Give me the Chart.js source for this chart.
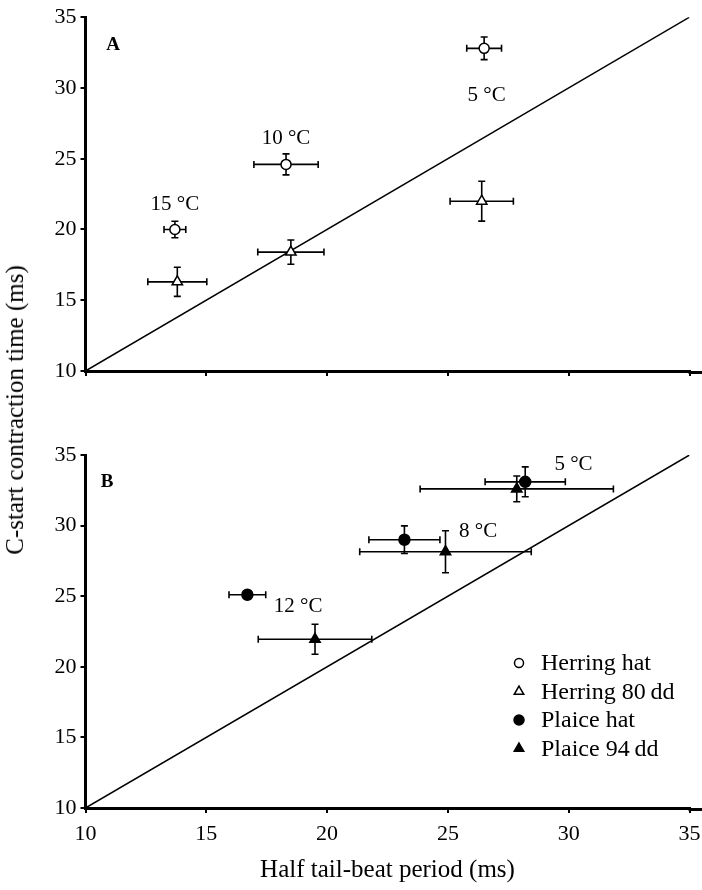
<!DOCTYPE html>
<html>
<head>
<meta charset="utf-8">
<title>C-start contraction time vs half tail-beat period</title>
<script src="https://cdn.jsdelivr.net/npm/chart.js@4.4.0/dist/chart.umd.min.js"></script>
<style>
  html, body { margin: 0; padding: 0; background: #fff; }
  #wrap { position: relative; width: 702px; height: 890px; font-family: "Liberation Serif", "Times New Roman", serif; color: #000; }
  #panelA { position: absolute; left: 0; top: 0; }
  #panelB { position: absolute; left: 0; top: 400px; }
  #ytitle {
    position: absolute; left: 15px; top: 410px;
    transform: translate(-50%, -50%) rotate(-90deg);
    white-space: nowrap; font-size: 25px;
  }
</style>
</head>
<body>
<div id="wrap">
  <canvas id="panelA" width="702" height="390"></canvas>
  <canvas id="panelB" width="702" height="490"></canvas>
  <div id="ytitle">C-start contraction time (ms)</div>
</div>

<script>
// --- axis ---
const axisMin = 10;
const axisMax = 35;
const axisStep = 5;
const xTitle = 'Half tail-beat period (ms)';

// --- panel A: herring (15, 10, 5 °C) ---
const tempsA = ['15 °C', '10 °C', '5 °C'];
const herringHatX = [13.7, 18.3, 26.5];
const herringHatY = [20.0, 24.6, 32.8];
const herringHatXErr = [0.45, 1.33, 0.72];
const herringHatYErr = [0.58, 0.74, 0.8];
const herring80X = [13.8, 18.5, 26.4];
const herring80Y = [16.3, 18.4, 22.0];
const herring80XErr = [1.22, 1.37, 1.31];
const herring80YErr = [1.03, 0.86, 1.41];

// --- panel B: plaice (12, 8, 5 °C) ---
const tempsB = ['12 °C', '8 °C', '5 °C'];
const plaiceHatX = [16.7, 23.2, 28.2];
const plaiceHatY = [25.1, 29.0, 33.1];
const plaiceHatXErr = [0.76, 1.47, 1.66];
const plaiceHatYErr = [0, 0.98, 1.06];
const plaice94X = [19.5, 24.9, 27.85];
const plaice94Y = [21.95, 28.15, 32.6];
const plaice94XErr = [2.35, 3.55, 4.0];
const plaice94YErr = [1.06, 1.49, 0.91];

// --- 1:1 line ---
const unityX = [10, 35];
const unityY = [10, 35];

const seriesNames = ['Herring hat', 'Herring 80\u2009dd', 'Plaice hat', 'Plaice 94\u2009dd'];

// ---------------------------------------------------------------
// styles & placement
const FONT = '"Liberation Serif", "Times New Roman", serif';
const seriesStyle = [
  { pointStyle: 'circle',   radius: 5,   fill: '#fff' },
  { pointStyle: 'triangle', radius: 6,   fill: '#fff' },
  { pointStyle: 'circle',   radius: 5.5, fill: '#000' },
  { pointStyle: 'triangle', radius: 6,   fill: '#000' }
];
// temperature label anchors (data units)
const tempPosA = [[13.7, 21.8], [18.3, 26.45], [26.6, 29.5]];
const tempPosB = [[18.8, 24.25], [26.25, 29.55], [30.2, 34.3]];

const toPoints = (xs, ys) => xs.map((x, i) => ({ x, y: ys[i] }));

function pointDataset(name, xs, ys, xErr, yErr, style) {
  return {
    label: name, type: 'scatter',
    data: toPoints(xs, ys),
    errX: xErr, errY: yErr,
    pointStyle: style.pointStyle,
    pointRadius: style.radius,
    pointBackgroundColor: style.fill,
    pointBorderColor: '#000',
    pointBorderWidth: 1.5
  };
}

function unityDataset() {
  return {
    type: 'line', data: toPoints(unityX, unityY),
    borderColor: '#000', borderWidth: 1.5, pointRadius: 0, fill: false
  };
}

// error bars are drawn under the markers, through the chart's scales
const errorBars = {
  id: 'errorBars',
  beforeDatasetsDraw(chart) {
    const { ctx, scales: { x, y } } = chart;
    const cap = 3.5;
    ctx.save();
    ctx.strokeStyle = '#000';
    ctx.lineWidth = 1.6;
    chart.data.datasets.forEach(ds => {
      if (!ds.errX) return;
      ds.data.forEach((p, i) => {
        const px = x.getPixelForValue(p.x), py = y.getPixelForValue(p.y);
        const ex = ds.errX[i], ey = ds.errY[i];
        ctx.beginPath();
        if (ex > 0) {
          const l = x.getPixelForValue(p.x - ex), r = x.getPixelForValue(p.x + ex);
          ctx.moveTo(l, py); ctx.lineTo(r, py);
          ctx.moveTo(l, py - cap); ctx.lineTo(l, py + cap);
          ctx.moveTo(r, py - cap); ctx.lineTo(r, py + cap);
        }
        if (ey > 0) {
          const t = y.getPixelForValue(p.y + ey), b = y.getPixelForValue(p.y - ey);
          ctx.moveTo(px, t); ctx.lineTo(px, b);
          ctx.moveTo(px - cap, t); ctx.lineTo(px + cap, t);
          ctx.moveTo(px - cap, b); ctx.lineTo(px + cap, b);
        }
        ctx.stroke();
      });
    });
    ctx.restore();
  }
};

// panel letter, temperature labels, axis run-out and (panel B) the legend
const annotations = {
  id: 'annotations',
  afterDraw(chart, args, opts) {
    const { ctx, chartArea, scales: { x, y } } = chart;
    ctx.save();

    // the x axis line runs on to the right edge in the original
    ctx.strokeStyle = '#000';
    ctx.lineWidth = 3;
    ctx.beginPath();
    ctx.moveTo(chartArea.right - 1, chartArea.bottom + 1.5);
    ctx.lineTo(chart.width, chartArea.bottom + 1.5);
    ctx.stroke();

    ctx.fillStyle = '#000';
    ctx.textAlign = 'center';
    ctx.textBaseline = 'middle';
    ctx.font = 'bold 19px ' + FONT;
    ctx.fillText(opts.letter, opts.letterX, opts.letterY);

    ctx.font = '21px ' + FONT;
    opts.temps.forEach((t, i) => {
      const [vx, vy] = opts.tempPos[i];
      ctx.fillText(t, x.getPixelForValue(vx), y.getPixelForValue(vy));
    });

    if (opts.legend) {
      const L = opts.legend;
      ctx.textAlign = 'left';
      ctx.font = '24px ' + FONT;
      seriesNames.forEach((name, i) => {
        const rowY = L.top + i * L.rowGap;
        const st = seriesStyle[i];
        ctx.fillStyle = st.fill;
        ctx.strokeStyle = '#000';
        ctx.lineWidth = 1.5;
        Chart.helpers.drawPoint(ctx, {
          pointStyle: st.pointStyle, radius: st.radius - 0.5, borderWidth: 1.5, rotation: 0
        }, L.markerX, rowY);
        ctx.fillStyle = '#000';
        ctx.fillText(name, L.textX, rowY + 1);
      });
    }
    ctx.restore();
  }
};

function panelOptions(isBottom, padTop, xHeight) {
  const grid = {
    display: true, drawOnChartArea: false, drawTicks: true,
    tickLength: 5, color: '#000', lineWidth: 2
  };
  return {
    responsive: false,
    animation: false,
    layout: { padding: { top: padTop, right: 12.5, left: 0, bottom: 0 } },
    plugins: { legend: { display: false }, tooltip: { enabled: false } },
    scales: {
      x: {
        type: 'linear', min: axisMin, max: axisMax,
        ticks: {
          display: isBottom, stepSize: axisStep, padding: 8, color: '#000',
          font: { family: FONT, size: 22 }
        },
        grid: grid,
        border: { display: true, color: '#000', width: 3 },
        title: {
          display: isBottom, text: xTitle, color: '#000',
          font: { family: FONT, size: 25 }, padding: { top: 0, bottom: 5 }
        },
        afterFit: s => { s.height = xHeight; s.paddingLeft = 0; s.paddingRight = 0; }
      },
      y: {
        type: 'linear', min: axisMin, max: axisMax,
        ticks: {
          stepSize: axisStep, padding: 4, color: '#000',
          font: { family: FONT, size: 22 }
        },
        grid: grid,
        border: { display: true, color: '#000', width: 3 },
        afterFit: s => { s.width = 85.5; }
      }
    }
  };
}

// --- Panel A ---
const optsA = panelOptions(false, 16, 19);
optsA.plugins.annotations = {
  letter: 'A', letterX: 113, letterY: 45, temps: tempsA, tempPos: tempPosA
};
new Chart(document.getElementById('panelA'), {
  type: 'scatter',
  data: {
    datasets: [
      pointDataset(seriesNames[0], herringHatX, herringHatY, herringHatXErr, herringHatYErr, seriesStyle[0]),
      pointDataset(seriesNames[1], herring80X, herring80Y, herring80XErr, herring80YErr, seriesStyle[1]),
      unityDataset()
    ]
  },
  options: optsA,
  plugins: [errorBars, annotations]
});

// --- Panel B ---
const optsB = panelOptions(true, 55, 82);
optsB.plugins.annotations = {
  letter: 'B', letterX: 107, letterY: 82, temps: tempsB, tempPos: tempPosB,
  legend: { markerX: 519, textX: 541, top: 263, rowGap: 28.5 }
};
new Chart(document.getElementById('panelB'), {
  type: 'scatter',
  data: {
    datasets: [
      pointDataset(seriesNames[2], plaiceHatX, plaiceHatY, plaiceHatXErr, plaiceHatYErr, seriesStyle[2]),
      pointDataset(seriesNames[3], plaice94X, plaice94Y, plaice94XErr, plaice94YErr, seriesStyle[3]),
      unityDataset()
    ]
  },
  options: optsB,
  plugins: [errorBars, annotations]
});
</script>
</body>
</html>
